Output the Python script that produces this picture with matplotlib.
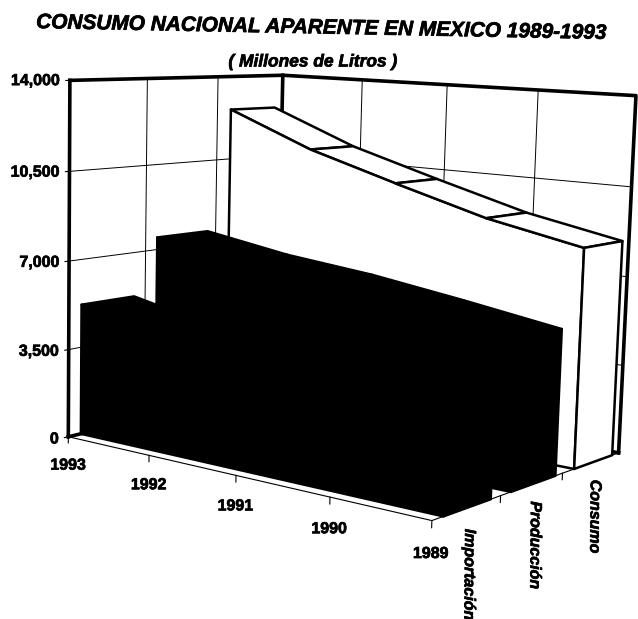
import numpy as np
import matplotlib
matplotlib.use("Agg")
import matplotlib.pyplot as plt
import matplotlib.patheffects as pe
from mpl_toolkits.mplot3d import proj3d
from mpl_toolkits.mplot3d.art3d import Poly3DCollection

years = ["1993", "1992", "1991", "1990", "1989"]
series_names = ["Importación", "Producción", "Consumo"]
importacion = [5200, 4500, 4100, 3700, 3300]
produccion = [7500, 6950, 6600, 6100, 5550]
consumo = [12600, 11200, 10150, 9150, 8440]
z_ticks = [0, 3500, 7000, 10500, 14000]
z_labels = ["0", "3,500", "7,000", "10,500", "14,000"]

W, H = 638, 619
fig = plt.figure(figsize=(W / 100, H / 100), dpi=100)
s = 1.0113
ax = fig.add_axes([0.5312 - s / 2, 0.5515 - s / 2 * W / H, s, s * W / H], projection="3d")
ax.set_xlim(0, 4)
ax.set_ylim(0, 3)
ax.set_zlim(0, 14000)
ax.set_xticks([])
ax.set_yticks([])
ax.set_zticks([])
ax.set_axis_off()
ax.computed_zorder = False
ax.view_init(8.2566, -52.884, -1.515)
ax.set_proj_type("persp", focal_length=0.5261)
ax.set_box_aspect((1.2457, 0.9197, 1))

x_pos = np.arange(len(years))
depths = [(0.16, 0.85), (1.16, 1.88), (2.2, 2.88)]
values = [importacion, produccion, consumo]
colors = ["black", "black", "white"]
label_drop = [-2370, -2290, -2130]

wall_lw = 2.6
def line(xs, ys, zs, lw=0.7, z=1):
    ax.plot(xs, ys, zs, color="black", lw=lw, zorder=z, clip_on=False)

# walls and grid
for x in x_pos[1:-1]:
    line([x, x], [3, 3], [0, 14000])
for y in [1, 2]:
    line([0, 0], [y, y], [0, 14000])
for z in z_ticks[1:-1]:
    line([0, 0, 4], [0, 3, 3], [z, z, z])
line([0, 0, 4, 4], [0, 3, 3, 3], [14000, 14000, 14000, 0], lw=wall_lw, z=2)
line([0, 0], [0, 0], [0, 14000], lw=wall_lw, z=2)
line([0, 0], [3, 3], [0, 14000], lw=wall_lw, z=2)
line([0, 0, 4], [0, 3, 3], [0, 0, 0], lw=wall_lw, z=2)

# floor edges and ticks
line([0, 4, 4], [0, 0, 3], [0, 0, 0], lw=0.8, z=2)
for x in x_pos:
    line([x, x], [0, 0], [0, -250], lw=0.8, z=2)
for y in [1, 2]:
    line([4, 4], [y, y], [0, -250], lw=0.8, z=2)
for z in z_ticks:
    line([0, 0], [0, -0.05], [z, z], lw=0.8, z=2)

# areas, back one first
order = 3
for (y0, y1), v, c in reversed(list(zip(depths, values, colors))):
    polys = []
    for i in range(len(x_pos) - 1):
        polys.append([(x_pos[i], y0, v[i]), (x_pos[i + 1], y0, v[i + 1]),
                      (x_pos[i + 1], y1, v[i + 1]), (x_pos[i], y1, v[i])])
    front = [(x, y0, 0) for x in x_pos[::-1]] + [(x, y0, t) for x, t in zip(x_pos, v)]
    side = [(4, y0, 0), (4, y1, 0), (4, y1, v[-1]), (4, y0, v[-1])]
    polys += [side, front]
    ax.add_collection3d(Poly3DCollection(polys, facecolors=c, edgecolors="black",
                                         linewidths=1.8, zorder=order, shade=False))
    order += 1

font = {"family": "Liberation Sans", "weight": "bold"}
heavy = [pe.withStroke(linewidth=0.5, foreground="black")]
for z, lab in zip(z_ticks, z_labels):
    ax.text(0, -0.12, z, lab, ha="right", va="center", fontsize=11.5, zorder=9,
            path_effects=heavy, **font)
for x, lab in zip(x_pos, years):
    ax.text(x, 0, -1150, lab, ha="center", va="center", fontsize=11.5, zorder=9,
            path_effects=heavy, **font)

# Text3D folds its angle to upright, so the depth labels go on as plain text
ax.apply_aspect()
for (y0, y1), lab, drop in zip(depths, series_names, label_drop):
    px, py, _ = proj3d.proj_transform(4.04, (y0 + y1) / 2, drop, ax.get_proj())
    fig.text(px, py, lab, transform=ax.transData, rotation=-90.5, ha="center", va="center",
             style="italic", fontsize=11.5, path_effects=heavy, **font)

fig.text(322 / W, 1 - 28 / H, "CONSUMO NACIONAL APARENTE EN MEXICO 1989-1993", ha="center", va="center",
         rotation=-1.1, style="italic", fontsize=15, path_effects=heavy, **font)
fig.text(313 / W, 1 - 62 / H, "( Millones de Litros )", ha="center", va="center",
         style="italic", fontsize=12.5, path_effects=heavy, **font)

fig.savefig("out.png", dpi=100)
